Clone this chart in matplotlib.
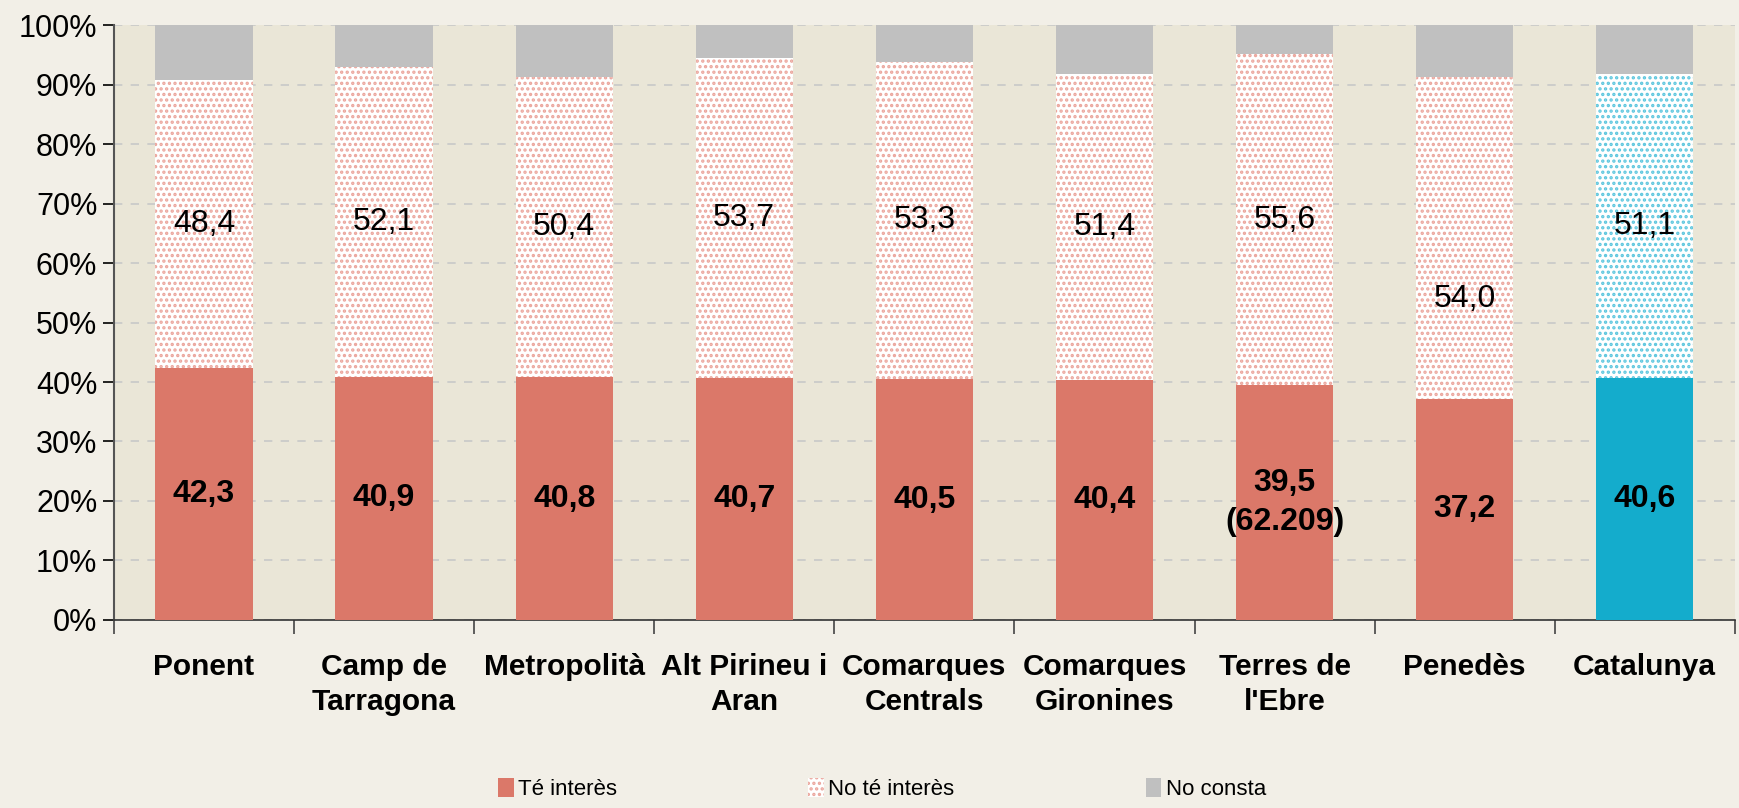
import matplotlib.pyplot as plt
import numpy as np
from matplotlib.patches import Patch

# Data
categories = ['Ponent', 'Camp de\nTarragona', 'Metropolità', 'Alt Pirineu i\nAran', 'Comarques\nCentrals',
              'Comarques\nGironines', "Terres de\nl'Ebre", 'Penedès', 'Catalunya']
te_interes = [42.3, 40.9, 40.8, 40.7, 40.5, 40.4, 39.5, 37.2, 40.6]
no_te_interes = [48.4, 52.1, 50.4, 53.7, 53.3, 51.4, 55.6, 54.0, 51.1]
low_labels = ['42,3', '40,9', '40,8', '40,7', '40,5', '40,4', '39,5\n(62.209)', '37,2', '40,6']
high_labels = ['48,4', '52,1', '50,4', '53,7', '53,3', '51,4', '55,6', '54,0', '51,1']
no_consta = [100 - a - b for a, b in zip(te_interes, no_te_interes)]

red = '#DB7869'
teal = '#14ACCC'
grey = '#C0C0C0'
plt.rcParams['font.family'] = ['Liberation Sans', 'DejaVu Sans']
plt.rcParams['hatch.linewidth'] = 1.6

fig = plt.figure(figsize=(17.4, 8.08), dpi=100, facecolor='#F2EFE7')
ax = fig.add_axes([0.0655, 0.2327, 0.9315, 0.7363])
ax.set_facecolor('#EAE6D7')

x = np.arange(len(categories))
w = 0.54
n = len(categories)
base_cols = [red] * (n - 1) + [teal]
hatch_cols = ['#EBA59C'] * (n - 1) + ['#5CC6DE']

ax.bar(x, te_interes, w, color=base_cols, zorder=3)
ax.bar(x, no_te_interes, w, bottom=te_interes, color='white', edgecolor=hatch_cols,
       hatch='...', linewidth=0, zorder=3)
ax.bar(x, no_consta, w, bottom=np.add(te_interes, no_te_interes), color=grey, zorder=3)

# value labels
for i in range(n):
    ax.text(x[i], te_interes[i] / 2, low_labels[i], ha='center', va='center',
            fontsize=23, fontweight='bold', zorder=4, linespacing=1.35)
    yh = te_interes[i] + no_te_interes[i] / 2
    if categories[i] == 'Penedès':
        yh = 54  # label sits lower in the original
    ax.text(x[i], yh, high_labels[i], ha='center', va='center', fontsize=23, zorder=4)

ax.set_xlim(-0.5, n - 0.5)
ax.set_ylim(0, 100)
ax.set_yticks(np.arange(0, 101, 10))
ax.set_yticklabels([f'{v}%' for v in range(0, 101, 10)], fontsize=22)
ax.yaxis.grid(True, linestyle=(0, (5, 5)), color='#C8C8C8', linewidth=1.2, zorder=0)
ax.tick_params(axis='y', length=8, width=1.2, direction='out', pad=4)

ax.set_xticks(x)
ax.set_xticklabels(categories, fontsize=21.5, fontweight='bold', linespacing=1.3, va='top')
ax.tick_params(axis='x', length=0, pad=24)
ax.set_xticks(np.arange(-0.5, n, 1), minor=True)
ax.tick_params(axis='x', which='minor', length=10, width=1.2, color='#444444')

for s in ['top', 'right']:
    ax.spines[s].set_visible(False)
ax.spines['left'].set_color('#555555')
ax.spines['left'].set_linewidth(1.5)
ax.spines['bottom'].set_color('#333333')
ax.spines['bottom'].set_linewidth(1.2)

handles = [Patch(facecolor=red, label='Té interès'),
           Patch(facecolor='white', edgecolor='#EBA59C', hatch='...', linewidth=0, label='No té interès'),
           Patch(facecolor=grey, label='No consta')]
leg = fig.legend(handles=handles, loc='center', bbox_to_anchor=(0.507, 0.023), ncol=3, frameon=False,
                 handlelength=0.7, handleheight=0.9, handletextpad=0.2, columnspacing=8.6,
                 prop={'family': ['Liberation Sans'], 'size': 16})

fig.savefig('out.png', dpi=100, facecolor=fig.get_facecolor())
